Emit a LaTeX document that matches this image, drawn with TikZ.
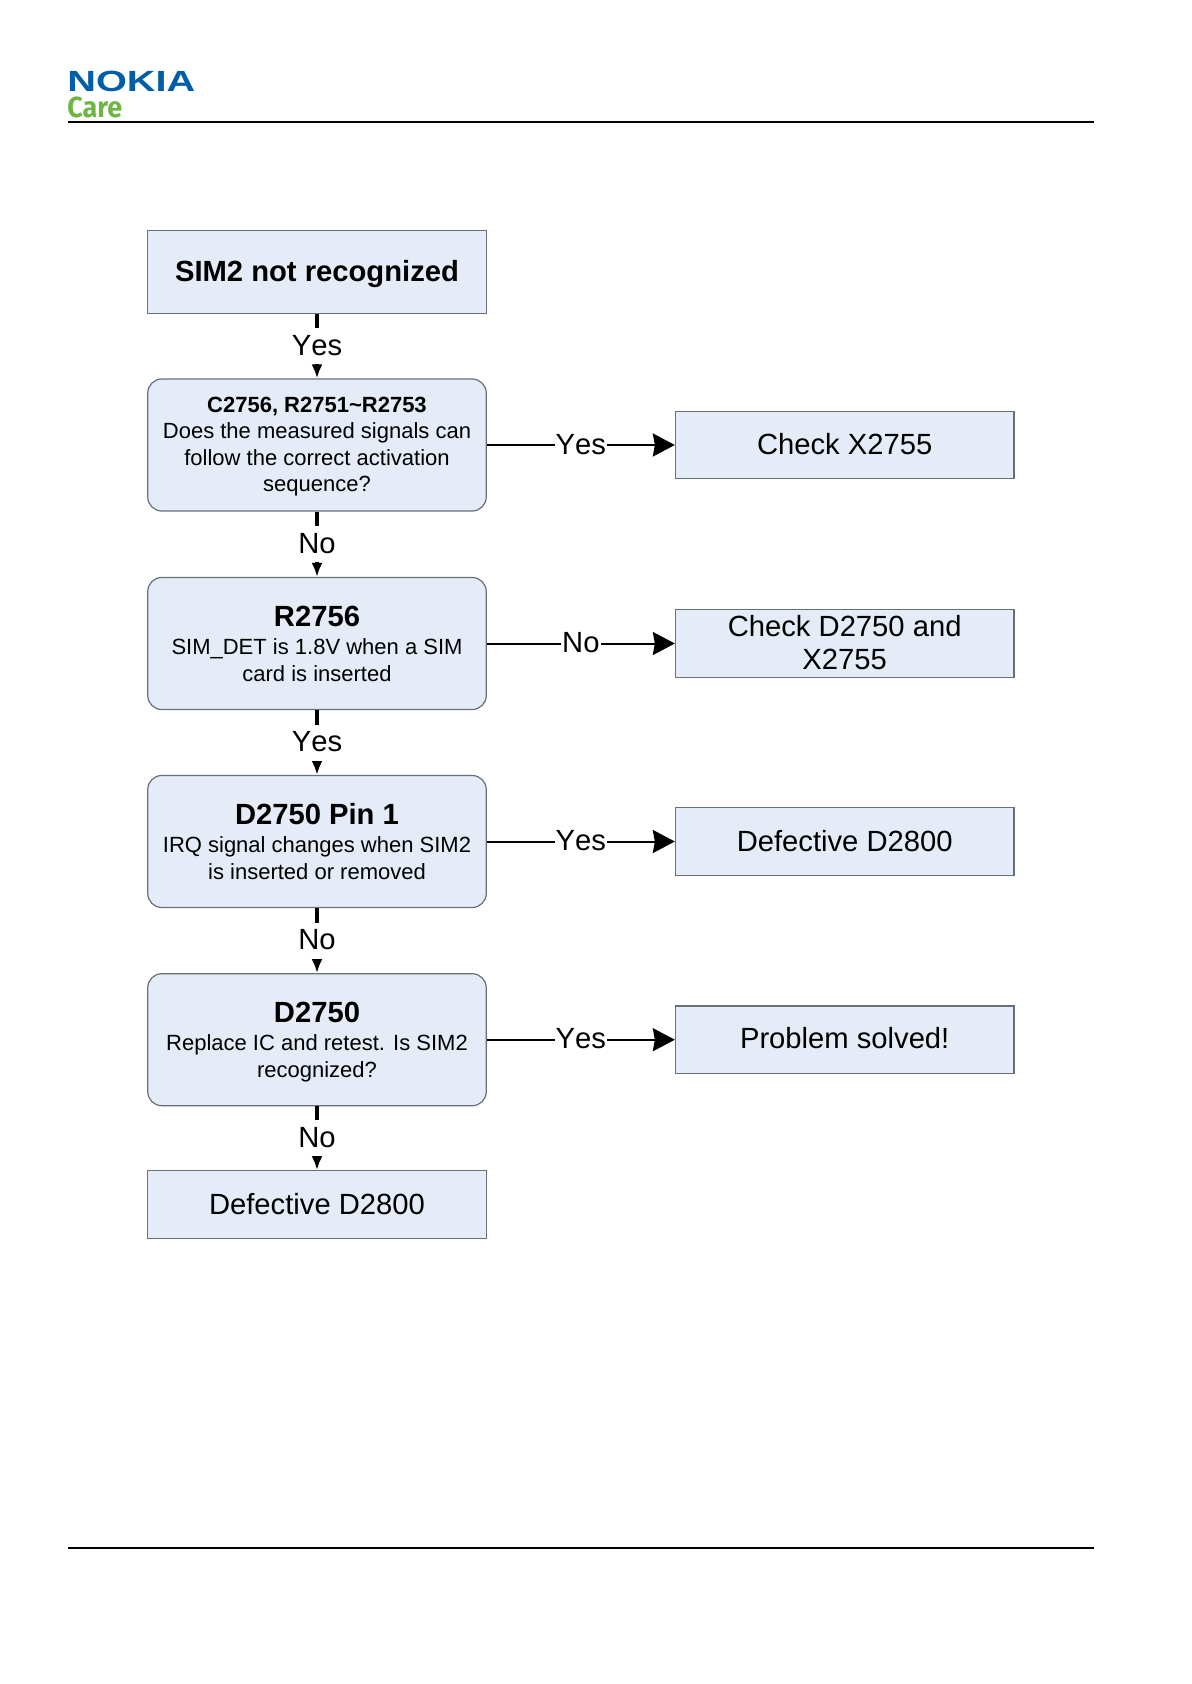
\documentclass[tikz,border=0pt]{standalone}
\usepackage{fontspec}
\setmainfont[Kerning=Off]{Liberation Sans}
\newfontfamily\carefont{Fira Sans}
\usetikzlibrary{arrows.meta}
\definecolor{mfill}{rgb}{0.90, 0.925, 0.97}
\definecolor{medge}{rgb}{0.40, 0.44, 0.48}
\definecolor{mblue}{rgb}{0.0, 0.37, 0.66}
\definecolor{mgreen}{rgb}{0.43, 0.71, 0.27}
\newcommand{\lbl}{\fontsize{14.6}{16.4}\selectfont}
\newcommand{\txt}{\fontsize{11}{13.25}\selectfont}
\tikzset{plain/.style = {draw=medge, fill=mfill, line width=0.6pt, minimum width=169.25pt,
                         align=center, text=black, inner sep=0pt, font=\lbl},
         flat/.style = {plain, minimum height=33.75pt, text depth=1pt},
         soft/.style = {plain, rounded corners=7pt, minimum height=66pt, font=\txt},
         vert/.style = {line width=2pt, -{Latex[length=7pt,width=5.5pt]}},
         horz/.style = {line width=1pt, -{Stealth[length=11pt,width=11.5pt,inset=1pt]}},
         tag/.style = {fill=white, inner xsep=0.6pt, inner ysep=0pt, minimum height=18pt,
                       text depth=1pt, font=\lbl},
         htag/.style = {fill=white, inner xsep=0.6pt, inner ysep=0pt, text depth=1pt, font=\lbl}}

\begin{document}
\begin{tikzpicture}[x=0.5pt, y=-0.5pt]
    \useasboundingbox (0, 0) rectangle (1191, 1684);

    % header and footer
    \node [inner sep=0pt, anchor=south west, text=mblue] (nokia) at (67, 92)
      {\scalebox{1.36}[1]{\fontsize{14.6}{14.6}\selectfont\bfseries NOKIA}};
    \node [inner sep=0pt, anchor=base west, text=mgreen] (care) at (67, 117.5)
      {\scalebox{0.93}[1]{\fontsize{14.5}{14.5}\carefont\bfseries Care}};
    \draw [line width=1pt] (67.7, 122.4) -- (1094.4, 122.4);
    \draw [line width=1pt] (67.7, 1547.6) -- (1094.4, 1547.6);

    % left column
    \node [plain, minimum height=41.5pt] (sim) at (317, 272.3) {\rule{0pt}{12.6pt}\bfseries SIM2 not recognized};
    \node [soft] (caps) at (317, 445)
      {\rule{0pt}{9.5pt}\textbf{C2756, R2751\textasciitilde R2753}\\Does the measured signals can\\follow the correct activation\\sequence?};
    \node [soft] (det) at (317, 643.5)
      {{\lbl\bfseries R2756}\\[1pt]SIM\_DET is 1.8V when a SIM\\card is inserted};
    \node [soft] (irq) at (317, 841.5)
      {{\lbl\bfseries D2750 Pin 1}\\[1pt]IRQ signal changes when SIM2\\is inserted or removed};
    \node [soft] (ic) at (317, 1039.7)
      {\rule{0pt}{12.5pt}{\lbl\bfseries D2750}\\[1pt]Replace IC and retest. Is SIM2\\recognized?};
    \node [flat] (badleft) at (317, 1204.5) {Defective D2800};

    % right column
    \node [flat] (x) at (844.7, 445) {Check X2755};
    \node [flat] (dx) at (844.7, 643.5) {Check D2750 and\\X2755};
    \node [flat] (badright) at (844.7, 841.5) {Defective D2800};
    \node [flat, text depth=1.5pt] (solved) at (844.7, 1039.7) {Problem solved!};

    % connectors
    \draw [vert] (sim) -- (caps) node [midway, tag] (t1) {Yes};
    \draw [vert] (caps) -- (det) node [midway, tag] (t2) {No};
    \draw [vert] (det) -- (irq) node [midway, tag] (t3) {Yes};
    \draw [vert] (irq) -- (ic) node [midway, tag] (t4) {No};
    \draw [vert] (ic) -- (badleft) node [midway, tag] (t5) {No};

    \draw [horz] (caps) -- (x) node [midway, htag] (t6) {Yes};
    \draw [horz] (det) -- (dx) node [midway, htag] (t7) {No};
    \draw [horz] (irq) -- (badright) node [midway, htag] (t8) {Yes};
    \draw [horz] (ic) -- (solved) node [midway, htag] (t9) {Yes};
\end{tikzpicture}
\end{document}
